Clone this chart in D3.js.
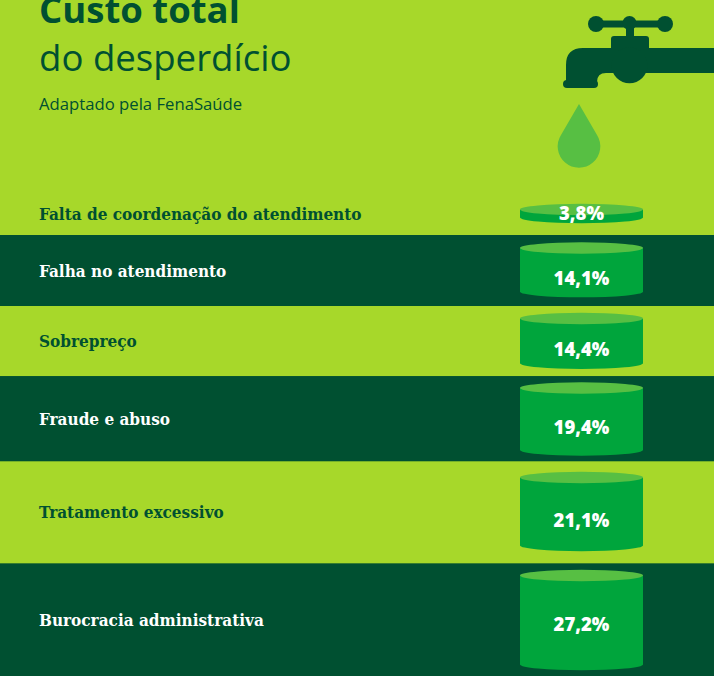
<!DOCTYPE html>
<html>
<head>
<meta charset="utf-8">
<script src="https://cdn.jsdelivr.net/npm/d3@7"></script>
<style>
html, body { margin: 0; padding: 0; background: #a7d82a; overflow: hidden; }
</style>
</head>
<body>
<div id="chart"></div>
<script>
// dados
var categories = ["Falta de coordenação do atendimento", "Falha no atendimento", "Sobrepreço", "Fraude e abuso", "Tratamento excessivo", "Burocracia administrativa"];
var values = [3.8, 14.1, 14.4, 19.4, 21.1, 27.2];

var width = 714, height = 676;
var light = "#a7d82a", dark = "#005031", body = "#00a53c", lid = "#57bf43";
var slab = "'DejaVu Serif Condensed', 'DejaVu Serif', serif", sans = "'Open Sans', sans-serif";

// folga de cada faixa acima e abaixo do cilindro
var headTop = 209.5;
var padTop = [0, 13, 12.5, 12, 16, 12.2];
var padBottom = [17.5, 14.4, 12.8, 11.5, 17.9, 11.5];
var valueDy = [0, 15, 15, 15, 16, 11];
var cx = 581.5, rx = 61.5, ry = 5.7;

var h = d3.scaleLinear().domain([3.8, 27.2]).range([8, 89]);

var svg = d3.select("#chart").append("svg")
	.attr("width", width)
	.attr("height", height)
	.style("display", "block");

// empilha as faixas a partir das alturas
var rows = [], K = 0;
values.forEach(function (v, i) {
	var top = i == 0 ? headTop : K + padTop[i];
	var bottom = top + h(v);
	var end = bottom + padBottom[i];
	rows.push({label: categories[i], value: v, y0: K, y1: end, top: top, bottom: bottom, i: i});
	K = end;
});

svg.selectAll("rect.band")
	.data(rows)
	.enter()
	.append("rect")
	.attr("class", "band")
	.attr("x", 0)
	.attr("y", function (d) { return d.y0; })
	.attr("width", width)
	.attr("height", function (d) { return d.y1 - d.y0; })
	.attr("fill", function (d) { return d.i % 2 ? dark : light; });

svg.selectAll("path.cyl")
	.data(rows)
	.enter()
	.append("path")
	.attr("class", "cyl")
	.attr("fill", body)
	.attr("d", function (d) {
		return "M" + (cx - rx) + "," + d.top +
			"V" + d.bottom +
			"A" + rx + "," + ry + " 0 0 0 " + (cx + rx) + "," + d.bottom +
			"V" + d.top + "Z";
	});

svg.selectAll("ellipse.lid")
	.data(rows)
	.enter()
	.append("ellipse")
	.attr("class", "lid")
	.attr("cx", cx)
	.attr("cy", function (d) { return d.top; })
	.attr("rx", rx)
	.attr("ry", ry)
	.attr("fill", lid);

svg.selectAll("text.label")
	.data(rows)
	.enter()
	.append("text")
	.attr("class", "label")
	.attr("x", 39)
	.attr("y", function (d) { return d.i == 0 ? 220 : (d.y0 + d.y1) / 2 + 6; })
	.attr("font-family", slab)
	.attr("font-weight", "bold")
	.attr("font-size", 17)
	.attr("fill", function (d) { return d.i % 2 ? "#ffffff" : dark; })
	.text(function (d) { return d.label; });

svg.selectAll("text.value")
	.data(rows)
	.enter()
	.append("text")
	.attr("class", "value")
	.attr("x", cx)
	.attr("y", function (d) { return d.i == 0 ? 220 : (d.top + d.bottom) / 2 + valueDy[d.i]; })
	.attr("text-anchor", "middle")
	.attr("font-family", sans)
	.attr("font-weight", 800)
	.attr("font-size", 18.5)
	.attr("fill", "#ffffff")
	.text(function (d) { return d3.format(".1f")(d.value).replace(".", ",") + "%"; });

// titulo
svg.append("text").attr("x", 39).attr("y", 23)
	.attr("font-family", sans).attr("font-weight", "bold").attr("font-size", 36.5).attr("fill", dark)
	.text("Custo total");
svg.append("text").attr("x", 39).attr("y", 71)
	.attr("font-family", sans).attr("font-size", 36.6).attr("fill", dark)
	.text("do desperdício");
svg.append("text").attr("x", 39).attr("y", 110)
	.attr("font-family", sans).attr("font-size", 16.7).attr("fill", dark)
	.text("Adaptado pela FenaSaúde");

// torneira e gota
var tap = svg.append("g").attr("fill", dark);
tap.append("rect").attr("x", 596).attr("y", 20.5).attr("width", 69).attr("height", 7);
[596, 665].forEach(function (x) {
	tap.append("circle").attr("cx", x).attr("cy", 24).attr("r", 8);
});
tap.append("circle").attr("cx", 629.5).attr("cy", 23).attr("r", 7);
tap.append("rect").attr("x", 626).attr("y", 24).attr("width", 8).attr("height", 14);
tap.append("rect").attr("x", 611).attr("y", 36).attr("width", 38).attr("height", 16).attr("rx", 3);
tap.append("path").attr("d", "M714,48H583Q566,48 566,65V82H597Q597,73 606,73H714Z");
tap.append("rect").attr("x", 563).attr("y", 80).attr("width", 35).attr("height", 8).attr("rx", 4);
tap.append("circle").attr("cx", 629.5).attr("cy", 65.3).attr("r", 18);

svg.append("path")
	.attr("fill", lid)
	.attr("d", "M579,104L597,135A21.3,21.3 0 1 1 561,135Z");
</script>
</body>
</html>
